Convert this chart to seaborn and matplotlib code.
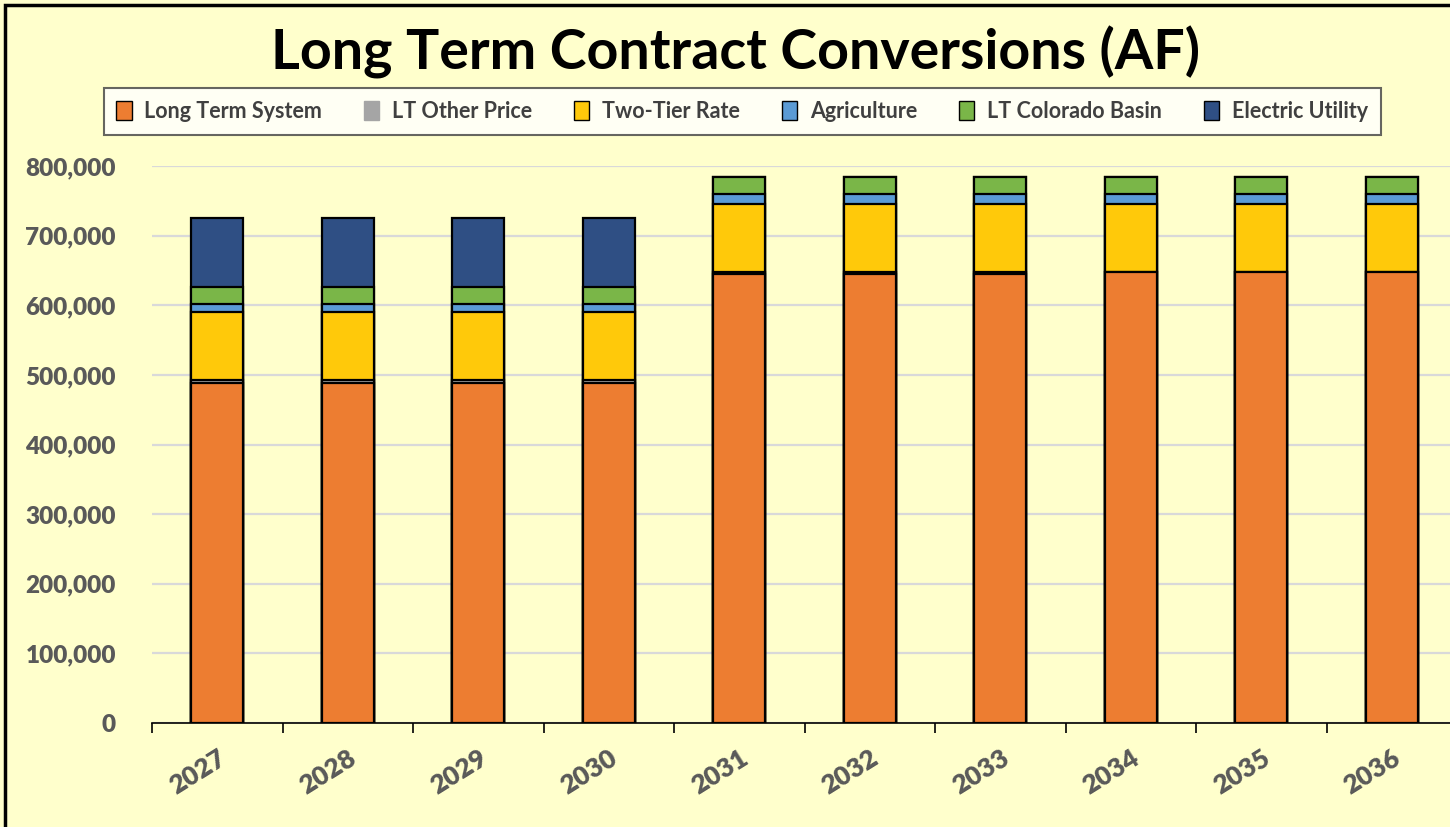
import numpy as np
import pandas as pd
import matplotlib
matplotlib.use('Agg')
import matplotlib.pyplot as plt
from matplotlib.patches import Patch, Rectangle
from matplotlib.ticker import FuncFormatter, FixedLocator
import seaborn as sns

# data (acre-feet)
years = ['2027', '2028', '2029', '2030', '2031', '2032', '2033', '2034', '2035', '2036']
long_term_system = [489000, 489000, 489000, 489000, 645000, 645000, 645000, 648000, 648000, 648000]
lt_other_price = [3000, 3000, 3000, 3000, 3000, 3000, 3000, 0, 0, 0]
two_tier_rate = [98000, 98000, 98000, 98000, 98000, 98000, 98000, 98000, 98000, 98000]
agriculture = [12000, 12000, 12000, 12000, 14000, 14000, 14000, 14000, 14000, 14000]
lt_colorado_basin = [24000, 24000, 24000, 24000, 24000, 24000, 24000, 24000, 24000, 24000]
electric_utility = [99000, 99000, 99000, 99000, 0, 0, 0, 0, 0, 0]

series = ['Long Term System', 'LT Other Price', 'Two-Tier Rate', 'Agriculture',
          'LT Colorado Basin', 'Electric Utility']
colors = ['#ED7D31', '#A5A5A5', '#FFC90A', '#5B9BD5', '#7AB648', '#2F4F84']

BG = '#FFFFCC'
TXT = '#595959'

df = pd.DataFrame({'year': years,
                   'Long Term System': long_term_system,
                   'LT Other Price': lt_other_price,
                   'Two-Tier Rate': two_tier_rate,
                   'Agriculture': agriculture,
                   'LT Colorado Basin': lt_colorado_basin,
                   'Electric Utility': electric_utility})
cum = df[series].cumsum(axis=1)

sns.set_style('white')
plt.rcParams['font.family'] = ['Lato', 'DejaVu Sans']

fig = plt.figure(figsize=(14.5, 8.27), dpi=100, facecolor=BG)
ax = fig.add_axes([152 / 1450, 1 - 723 / 827, 1305 / 1450, 557 / 827])
ax.set_facecolor(BG)

# stacked bars: draw the cumulative totals from the top series down
for name, col in zip(reversed(series), reversed(colors)):
    sns.barplot(x=df['year'], y=cum[name], color=col, width=0.4, ax=ax,
                edgecolor='black', linewidth=1.6, saturation=1, zorder=3)

ax.set_ylim(0, 800000)
ax.set_xlim(-0.5, 9.5)
ax.set_yticks(np.arange(0, 800001, 100000))
ax.yaxis.set_major_formatter(FuncFormatter(lambda v, p: f'{int(v):,}'))
ax.grid(axis='y', color='#D9D9D9', linewidth=1.6, zorder=0)
ax.set_axisbelow(True)
ax.set_xlabel('')
ax.set_ylabel('')

for s in ['top', 'right', 'left']:
    ax.spines[s].set_visible(False)
ax.spines['bottom'].set_color('black')
ax.spines['bottom'].set_linewidth(1.2)
ax.spines['bottom'].set_zorder(5)

ax.tick_params(axis='y', length=0, pad=26, labelsize=17.5, labelcolor=TXT)
for lbl in ax.get_yticklabels():
    lbl.set_fontweight('heavy')

ax.xaxis.set_minor_locator(FixedLocator(np.arange(-0.5, 10, 1)))
ax.tick_params(axis='x', which='major', bottom=False, length=0, pad=16,
               labelsize=19, labelcolor=TXT)
ax.tick_params(axis='x', which='minor', bottom=True, length=7, width=1.2,
               color='black', direction='out')
for lbl in ax.get_xticklabels():
    lbl.set_fontweight('heavy')
    lbl.set_rotation(32)
    lbl.set_ha('right')
    lbl.set_rotation_mode('anchor')

fig.text(0.507, 0.937, 'Long Term Contract Conversions (AF)', ha='center', va='center',
         fontsize=40, fontweight='bold', color='black')

handles = [Patch(facecolor=c, edgecolor='black', linewidth=1.0, label=n)
           for n, c in zip(series, colors)]
handles[1].set_edgecolor('#A5A5A5')
leg = fig.legend(handles=handles, ncol=6, loc='center', bbox_to_anchor=(0.512, 0.865),
                 frameon=True, fancybox=False, fontsize=15.5, handlelength=0.7,
                 handleheight=1.0, handletextpad=0.6, columnspacing=1.95,
                 borderpad=0.6, facecolor='white', edgecolor='#404040')
leg.get_frame().set_linewidth(1.5)
for t in leg.get_texts():
    t.set_fontweight('bold')
    t.set_color('#404040')

# chart outer border
fig.patches.append(Rectangle((5 / 1450, -0.1), 1.2, 1.1 - 5 / 827, transform=fig.transFigure,
                             fill=False, edgecolor='black', linewidth=2.5))

fig.savefig('out.png', dpi=100, facecolor=BG)
